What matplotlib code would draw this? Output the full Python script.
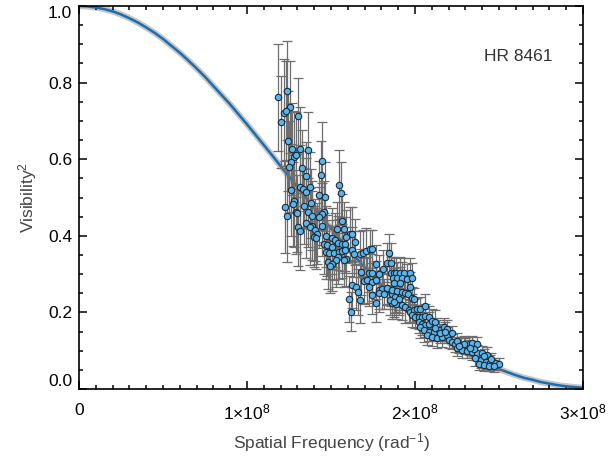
import matplotlib
matplotlib.use('Agg')
import matplotlib.pyplot as plt
from matplotlib.ticker import MultipleLocator, FixedLocator, FormatStrFormatter
import numpy as np

plt.rcParams['font.family'] = ['Liberation Sans', 'DejaVu Sans']
plt.rcParams['mathtext.fontset'] = 'custom'
plt.rcParams['mathtext.rm'] = 'Liberation Sans'
plt.rcParams['mathtext.it'] = 'Liberation Sans:italic'

# model curve (uniform disk), frequency in units of 1e8 rad^-1
model_freq = [0.00, 0.05, 0.10, 0.15, 0.20, 0.25, 0.30, 0.35, 0.40, 0.45,
              0.50, 0.55, 0.60, 0.65, 0.70, 0.75, 0.80, 0.85, 0.90, 0.95,
              1.00, 1.05, 1.10, 1.15, 1.20, 1.25, 1.30, 1.35, 1.40, 1.45,
              1.50, 1.55, 1.60, 1.65, 1.70, 1.75, 1.80, 1.85, 1.90, 1.95,
              2.00, 2.05, 2.10, 2.15, 2.20, 2.25, 2.30, 2.35, 2.40, 2.45,
              2.50, 2.55, 2.60, 2.65, 2.70, 2.75, 2.80, 2.85, 2.90, 2.95, 3.00]
model_vis2 = [1.000, 0.999, 0.996, 0.992, 0.986, 0.978, 0.968, 0.957, 0.944, 0.930,
              0.914, 0.896, 0.878, 0.858, 0.837, 0.815, 0.791, 0.767, 0.743, 0.717,
              0.691, 0.664, 0.637, 0.610, 0.582, 0.555, 0.527, 0.500, 0.473, 0.446,
              0.419, 0.393, 0.368, 0.342, 0.318, 0.295, 0.272, 0.250, 0.229, 0.209,
              0.190, 0.171, 0.154, 0.138, 0.122, 0.108, 0.095, 0.083, 0.072, 0.061,
              0.052, 0.044, 0.036, 0.029, 0.024, 0.018, 0.014, 0.010, 0.007, 0.005, 0.003]

# measured squared visibilities
freq = [1.186, 1.240, 1.253, 1.220, 1.230, 1.200, 1.301, 1.246, 1.265, 1.313,
        1.363, 1.277, 1.289, 1.262, 1.250, 1.325, 1.349, 1.317, 1.333, 1.349,
        1.375, 1.263, 1.277, 1.273, 1.226, 1.339, 1.379, 1.289, 1.299, 1.240,
        1.365, 1.385, 1.353, 1.389, 1.373, 1.301, 1.317, 1.405, 1.415, 1.399,
        1.409,
        1.448, 1.438, 1.548, 1.560, 1.428, 1.462, 1.458, 1.448, 1.428, 1.567,
        1.448, 1.536, 1.577, 1.611, 1.627, 1.472, 1.508, 1.524, 1.587, 1.643,
        1.458, 1.478, 1.544, 1.563, 1.583, 1.508, 1.623, 1.670, 1.690, 1.706,
        1.730, 1.746, 1.472, 1.488, 1.518, 1.548, 1.567, 1.583, 1.591, 1.577,
        1.539, 1.527, 1.637, 1.484, 1.508, 1.492, 1.676, 1.697, 1.716, 1.627,
        1.647, 1.663, 1.607, 1.670, 1.619,
        1.845, 1.836, 1.855, 1.766, 1.810, 1.726, 1.746, 1.786, 1.855, 1.873,
        1.889, 1.913, 1.933, 1.968, 1.746, 1.766, 1.726, 1.786, 1.806, 1.836,
        1.855, 1.746, 1.786, 1.816, 1.865, 1.885, 1.905, 1.915, 1.766, 1.865,
        1.889, 1.869, 1.893, 1.923, 1.953, 1.983, 1.877, 1.913, 1.973, 1.834,
        1.864, 1.893, 1.923, 1.943, 1.957, 1.983, 1.992, 1.883, 1.903, 1.853,
        1.873, 1.923, 1.943, 1.963, 1.973, 1.992,
        2.012, 2.032, 2.062, 1.983, 2.002, 2.022, 2.042, 2.062, 2.082, 2.022,
        2.042, 2.062, 2.082, 2.102, 2.122, 2.032, 2.052, 2.082, 2.111, 2.141,
        2.171, 2.191, 2.072, 2.102, 2.132, 2.161, 2.191, 2.221, 2.201, 2.221,
        2.241, 2.271, 2.300, 2.320, 2.340, 2.370, 2.251, 2.281, 2.311, 2.340,
        2.370, 2.400, 2.430, 2.360, 2.390, 2.420, 2.449, 2.479, 2.499, 2.380,
        2.410, 2.439, 2.469, 2.150, 2.250, 2.290, 2.350, 2.410, 2.450, 2.120,
        2.180, 2.260, 2.330]
vis2 = [0.762, 0.779, 0.737, 0.721, 0.727, 0.697, 0.713, 0.648, 0.627, 0.626,
        0.623, 0.607, 0.612, 0.593, 0.579, 0.577, 0.556, 0.527, 0.521, 0.514,
        0.528, 0.520, 0.492, 0.483, 0.476, 0.478, 0.485, 0.463, 0.459, 0.452,
        0.462, 0.452, 0.433, 0.426, 0.424, 0.422, 0.412, 0.415, 0.406, 0.398,
        0.393,
        0.596, 0.558, 0.533, 0.512, 0.506, 0.502, 0.463, 0.457, 0.448, 0.438,
        0.426, 0.418, 0.417, 0.406, 0.405, 0.399, 0.393, 0.389, 0.398, 0.383,
        0.379, 0.375, 0.382, 0.379, 0.379, 0.370, 0.363, 0.352, 0.356, 0.361,
        0.365, 0.366, 0.358, 0.356, 0.354, 0.358, 0.361, 0.363, 0.340, 0.337,
        0.344, 0.337, 0.352, 0.332, 0.326, 0.321, 0.306, 0.283, 0.285, 0.272,
        0.267, 0.253, 0.234, 0.232, 0.202,
        0.354, 0.330, 0.330, 0.326, 0.313, 0.304, 0.302, 0.300, 0.304, 0.304,
        0.302, 0.304, 0.302, 0.302, 0.280, 0.285, 0.267, 0.258, 0.260, 0.260,
        0.258, 0.245, 0.250, 0.248, 0.248, 0.241, 0.239, 0.245, 0.224, 0.224,
        0.222, 0.289, 0.291, 0.291, 0.286, 0.289, 0.276, 0.278, 0.266, 0.263,
        0.258, 0.257, 0.254, 0.251, 0.248, 0.237, 0.234, 0.239, 0.234, 0.232,
        0.228, 0.219, 0.213, 0.206, 0.202, 0.206,
        0.208, 0.210, 0.217, 0.193, 0.189, 0.187, 0.189, 0.191, 0.187, 0.176,
        0.171, 0.167, 0.171, 0.178, 0.176, 0.163, 0.154, 0.150, 0.150, 0.154,
        0.161, 0.156, 0.141, 0.137, 0.132, 0.135, 0.141, 0.145, 0.128, 0.124,
        0.117, 0.115, 0.112, 0.117, 0.119, 0.117, 0.106, 0.102, 0.100, 0.097,
        0.095, 0.093, 0.089, 0.080, 0.076, 0.071, 0.069, 0.067, 0.065, 0.065,
        0.063, 0.061, 0.060, 0.145, 0.125, 0.118, 0.105, 0.085, 0.078, 0.160,
        0.150, 0.113, 0.108]
vis2_err = [0.14, 0.13, 0.12, 0.14, 0.13, 0.12, 0.10, 0.13, 0.12, 0.11,
            0.10, 0.12, 0.11, 0.13, 0.12, 0.10, 0.09, 0.11, 0.10, 0.09,
            0.09, 0.12, 0.12, 0.11, 0.12, 0.10, 0.09, 0.11, 0.10, 0.12,
            0.09, 0.09, 0.09, 0.09, 0.10, 0.10, 0.10, 0.08, 0.08, 0.08,
            0.08,
            0.10, 0.09, 0.09, 0.08, 0.09, 0.09, 0.08, 0.08, 0.08, 0.07,
            0.08, 0.07, 0.07, 0.07, 0.07, 0.08, 0.08, 0.07, 0.07, 0.06,
            0.08, 0.08, 0.07, 0.07, 0.07, 0.07, 0.06, 0.06, 0.06, 0.06,
            0.05, 0.05, 0.07, 0.07, 0.07, 0.07, 0.07, 0.06, 0.07, 0.07,
            0.07, 0.07, 0.06, 0.07, 0.07, 0.07, 0.06, 0.06, 0.06, 0.06,
            0.06, 0.06, 0.06, 0.06, 0.05,
            0.05, 0.05, 0.05, 0.05, 0.05, 0.05, 0.05, 0.05, 0.04, 0.04,
            0.04, 0.04, 0.04, 0.04, 0.05, 0.05, 0.05, 0.05, 0.05, 0.04,
            0.04, 0.05, 0.05, 0.04, 0.04, 0.04, 0.04, 0.04, 0.05, 0.04,
            0.04, 0.04, 0.04, 0.04, 0.04, 0.04, 0.04, 0.04, 0.04, 0.04,
            0.04, 0.04, 0.04, 0.04, 0.04, 0.03, 0.03, 0.04, 0.04, 0.04,
            0.04, 0.04, 0.04, 0.03, 0.03, 0.03,
            0.03, 0.03, 0.03, 0.03, 0.03, 0.03, 0.03, 0.03, 0.03, 0.03,
            0.03, 0.03, 0.03, 0.03, 0.03, 0.03, 0.03, 0.025, 0.025, 0.025,
            0.025, 0.025, 0.025, 0.025, 0.025, 0.025, 0.02, 0.02, 0.02, 0.02,
            0.02, 0.02, 0.02, 0.02, 0.02, 0.02, 0.02, 0.02, 0.02, 0.02,
            0.02, 0.02, 0.02, 0.02, 0.02, 0.02, 0.02, 0.015, 0.015, 0.015,
            0.015, 0.015, 0.015, 0.025, 0.02, 0.02, 0.02, 0.02, 0.015, 0.025,
            0.025, 0.02, 0.02]

xtick_pos = [0, 1, 2, 3]
xtick_labels = ['0', r'$\mathregular{1{\times}10^{8}}$',
                r'$\mathregular{2{\times}10^{8}}$', r'$\mathregular{3{\times}10^{8}}$']

scale = 1e8
fig = plt.figure(figsize=(6.12, 4.58), dpi=100)
ax = fig.add_axes([79 / 612, 69 / 458, 504 / 612, 383 / 458])

mf = np.array(model_freq) * scale
ax.plot(mf, model_vis2, color='#c6c6c6', lw=4.5, solid_capstyle='butt', zorder=1)
ax.plot(mf, model_vis2, color='#1b6db0', lw=1.8, zorder=2)

ax.errorbar(np.array(freq) * scale, vis2, yerr=vis2_err, fmt='none',
            ecolor='#6e6e6e', elinewidth=0.9, capsize=3.5, capthick=0.9, zorder=3)
ax.plot(np.array(freq) * scale, vis2, 'o', ms=4.6, mfc='#5bb5e8', mec='#1c2b3a',
        mew=0.8, zorder=4)

ax.set_xlim(0, 3 * scale)
ax.set_ylim(0, 1.0)
ax.xaxis.set_major_locator(FixedLocator([p * scale for p in xtick_pos]))
ax.set_xticklabels(xtick_labels)
ax.xaxis.set_minor_locator(MultipleLocator(0.1 * scale))
ax.yaxis.set_major_locator(MultipleLocator(0.2))
ax.yaxis.set_minor_locator(MultipleLocator(0.05))
ax.yaxis.set_major_formatter(FormatStrFormatter('%.1f'))

ax.tick_params(which='both', direction='in', top=True, right=True, width=1.1)
ax.tick_params(which='major', length=6)
ax.tick_params(which='minor', length=3)
ax.tick_params(axis='x', which='major', pad=10, labelsize=12.5)
ax.tick_params(axis='y', which='major', pad=5, labelsize=12.5)
for s in ax.spines.values():
    s.set_linewidth(1.2)

ax.set_xlabel(r'Spatial Frequency (rad$^{\mathregular{-1}}$)', fontsize=12.5,
              color='#444444', labelpad=6)
ax.set_ylabel(r'Visibility$^{\mathregular{2}}$', fontsize=12.5, color='#444444',
              labelpad=6)
ax.text(2.616 * scale, 0.867, 'HR 8461', fontsize=12.5, color='#333333',
        ha='center', va='center')

# end labels of the y axis sit inside the axis range, as in the original
fig.canvas.draw()
for lbl in ax.get_yticklabels():
    if lbl.get_text() == '0.0':
        lbl.set_va('bottom')
    elif lbl.get_text() == '1.0':
        lbl.set_va('top')

fig.savefig('out.png', dpi=100)
